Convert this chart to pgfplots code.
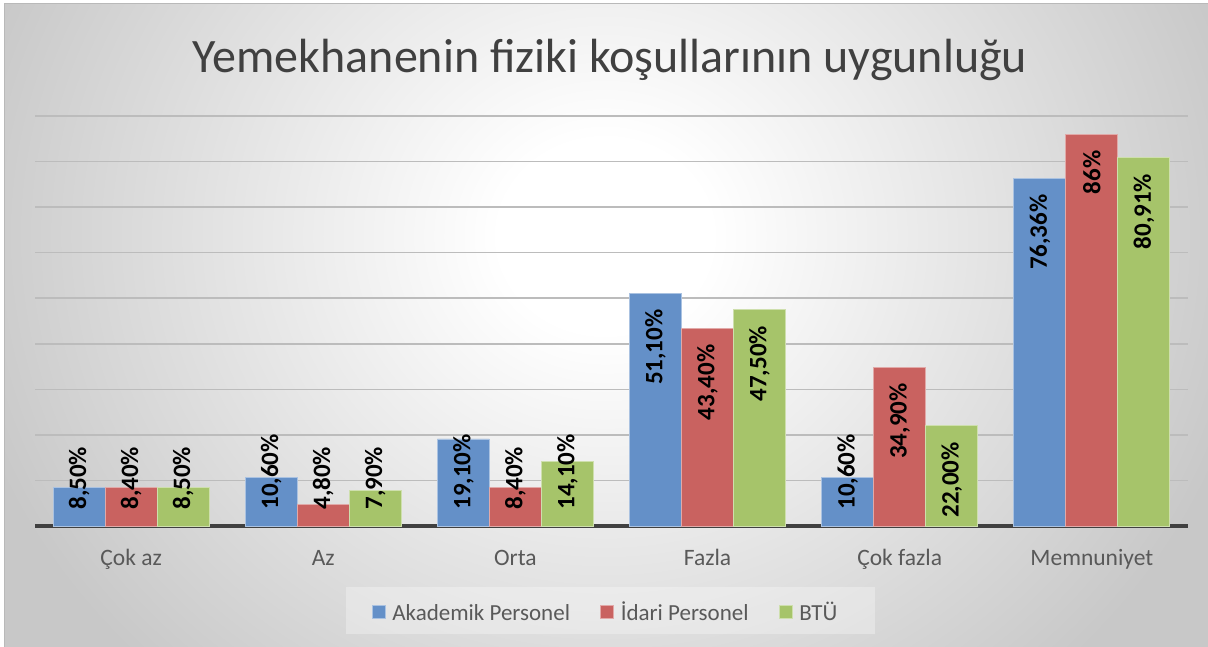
\documentclass[border=0pt]{standalone}
\usepackage{pgfplots}
\pgfplotsset{compat=1.18}
\usepackage{pgfplotstable}
\usepackage{fontspec}
\setmainfont{Carlito}

\definecolor{cblue}{RGB}{100,144,200}
\definecolor{cred}{RGB}{201,98,96}
\definecolor{cgreen}{RGB}{166,196,106}
\definecolor{bgedge}{RGB}{200,200,200}
\definecolor{gridc}{RGB}{188,188,188}
\definecolor{axisc}{RGB}{64,64,64}
\definecolor{txt}{RGB}{89,89,89}
\definecolor{titlec}{RGB}{64,64,64}

\pgfdeclareradialshading{bgshade}{\pgfpoint{0bp}{0bp}}{color(0bp)=(white); color(4bp)=(white); color(25bp)=(bgedge); color(50bp)=(bgedge)}

\pgfplotstableread{
x v lbl
0 8.5 8,50
1 10.6 10,60
2 19.1 19,10
3 51.1 51,10
4 10.6 10,60
5 76.36 76,36
}\akad
\pgfplotstableread{
x v lbl
0 8.4 8,40
1 4.8 4,80
2 8.4 8,40
3 43.4 43,40
4 34.9 34,90
5 86 86
}\idari
\pgfplotstableread{
x v lbl
0 8.5 8,50
1 7.9 7,90
2 14.1 14,10
3 47.5 47,50
4 22.0 22,00
5 80.91 80,91
}\btu

\pgfplotsset{vlab/.style={
  point meta=explicit symbolic,
  visualization depends on=rawy \as \rawy,
  nodes near coords={\pgfplotspointmeta\%},
  every node near coord/.append style={yshift={ifthenelse(\rawy<21,16-\rawy*4.5556,-16)}, rotate=90, anchor={\ifdim\rawy pt<21pt west\else east\fi}, inner sep=0pt, font=\bfseries\fontsize{25}{25}\selectfont, text=black},
}}

% coordinates: X = px - 35, Y = 526 - py  (in pt)
\begin{document}
\begin{tikzpicture}
\path[use as bounding box] (-35pt,-120pt) rectangle (1173pt,526pt);
\begin{scope}
\clip (-30pt,-130pt) rectangle (1180pt,522pt);
\fill[bgedge] (-30pt,-130pt) rectangle (1180pt,522pt);
\shade[shading=bgshade] (570pt,290pt) ellipse [x radius=660pt, y radius=600pt];
\end{scope}
\draw[gray!55, line width=1pt] (-30pt,-130pt) -- (-30pt,522pt) -- (1180pt,522pt);
\fill[white, opacity=0.3] (311pt,-108pt) rectangle (840pt,-61pt);
\node[font=\fontsize{48}{48}\selectfont, text=titlec, anchor=base] at (575pt,453pt) {Yemekhanenin fiziki koşullarının uygunluğu};
\begin{axis}[
  at={(0pt,0pt)}, anchor=south west,
  scale only axis, width=1153pt, height=410pt,
  xmin=-0.5, xmax=5.5, ymin=0, ymax=90,
  ybar=0pt, bar width=52pt,
  axis line style={draw=none},
  tick style={draw=none},
  xtick={0,1,2,3,4,5},
  xticklabels={Çok az, Az, Orta, Fazla, Çok fazla, Memnuniyet},
  xticklabel style={font=\fontsize{23.5}{23.5}\selectfont, text=txt, anchor=base, yshift=-35pt},
  ytick={10,20,...,90}, yticklabels={},
  ymajorgrids, grid style={gridc, line width=1.5pt},
  extra y ticks={0}, extra y tick labels={},
  extra y tick style={grid style={axisc, line width=4pt}},
  legend style={at={(0.4948,-0.216)}, anchor=center, legend columns=3, draw=none, fill=none,
     font=\fontsize{23}{23}\selectfont, text=txt,
     nodes={text height=16pt, text depth=5pt},
     /tikz/every odd column/.append style={column sep=5pt},
     /tikz/every even column/.append style={column sep=28pt}},
  legend image code/.code={\draw[#1, line width=0.8pt] (0pt,-4pt) rectangle (13pt,9pt);},
]
\addplot[fill=cblue, draw=cblue!55!white, line width=0.8pt, vlab] table[x=x, y=v, meta=lbl] {\akad};
\addplot[fill=cred, draw=cred!55!white, line width=0.8pt, vlab] table[x=x, y=v, meta=lbl] {\idari};
\addplot[fill=cgreen, draw=cgreen!55!white, line width=0.8pt, vlab] table[x=x, y=v, meta=lbl] {\btu};
\legend{Akademik Personel, İdari Personel, BTÜ}
\end{axis}
\end{tikzpicture}
\end{document}
